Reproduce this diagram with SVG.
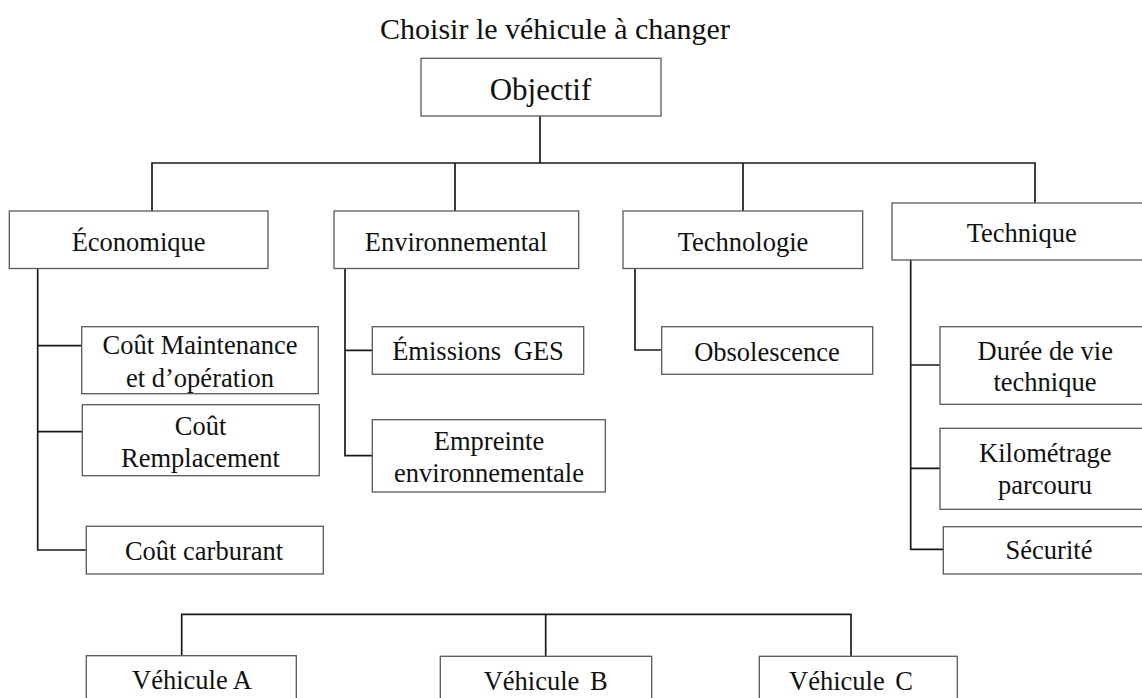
<svg xmlns="http://www.w3.org/2000/svg" width="1142" height="698" viewBox="0 0 1142 698">
  <style>
    .box { fill: #ffffff; stroke: #5a5a5a; stroke-width: 1.3; }
    .lbl { font-family: "Liberation Serif", "Times New Roman", serif; font-size: 26.5px; fill: #111111; text-anchor: middle; }
    .big { font-size: 30px; }
    .link { fill: none; stroke: #1a1a1a; stroke-width: 1.7; }
  </style>
  <rect width="1142" height="698" fill="#ffffff"/>

  <text class="lbl big" x="555" y="39">Choisir le véhicule à changer</text>

  <!-- connectors -->
  <g id="connectors">
    <path class="link" d="M540,116 V163 M152,211 V163 H1035 V203 M455,163 V211 M743,163 V211"/>
    <path class="link" d="M37.7,268.5 V550 H86.3 M37.7,345.7 H81.7 M37.7,431.7 H82.3"/>
    <path class="link" d="M345,268.5 V455.7 H372.3 M345,350.3 H372.3"/>
    <path class="link" d="M635,268.5 V350 H661.7"/>
    <path class="link" d="M910.7,260 V549.3 H943.3 M910.7,365 H940 M910.7,468.3 H940"/>
    <path class="link" d="M181.7,655.7 V614.3 H851 V656.3 M545.7,614.3 V656.3"/>
  </g>

  <g id="objectif">
    <rect class="box" x="421" y="58.3" width="240" height="57.7"/>
    <text class="lbl" style="font-size:31px" x="540.5" y="99.5">Objectif</text>
  </g>

  <g id="economique">
    <rect class="box" x="9.3" y="211" width="258.7" height="57.5"/>
    <text class="lbl" x="138.6" y="251">Économique</text>
  </g>
  <g id="environnemental">
    <rect class="box" x="334" y="211" width="244.7" height="57.5"/>
    <text class="lbl" x="456" y="251">Environnemental</text>
  </g>
  <g id="technologie">
    <rect class="box" x="623" y="211" width="239.7" height="57.5"/>
    <text class="lbl" x="743" y="251">Technologie</text>
  </g>
  <g id="technique">
    <rect class="box" x="892" y="203" width="260" height="57"/>
    <text class="lbl" x="1021.7" y="241.7">Technique</text>
  </g>

  <g id="cout-maintenance">
    <rect class="box" x="81.7" y="326.7" width="236.6" height="67"/>
    <text class="lbl" x="200" y="354.3">Coût Maintenance</text>
    <text class="lbl" x="200" y="387">et d’opération</text>
  </g>
  <g id="cout-remplacement">
    <rect class="box" x="82.3" y="404.7" width="237" height="71"/>
    <text class="lbl" x="200.5" y="435">Coût</text>
    <text class="lbl" x="200.5" y="466.7">Remplacement</text>
  </g>
  <g id="cout-carburant">
    <rect class="box" x="86.3" y="526.3" width="237" height="47.7"/>
    <text class="lbl" x="204" y="560">Coût carburant</text>
  </g>

  <g id="emissions-ges">
    <rect class="box" x="372.3" y="326.7" width="211.4" height="47.6"/>
    <text class="lbl" x="478" y="360.3" word-spacing="6">Émissions GES</text>
  </g>
  <g id="empreinte">
    <rect class="box" x="372.3" y="419.7" width="233" height="72.3"/>
    <text class="lbl" x="489" y="450.3">Empreinte</text>
    <text class="lbl" x="489" y="482">environnementale</text>
  </g>

  <g id="obsolescence">
    <rect class="box" x="661.7" y="326.7" width="211" height="47.6"/>
    <text class="lbl" x="767" y="361">Obsolescence</text>
  </g>

  <g id="duree-vie">
    <rect class="box" x="940" y="326.7" width="212" height="77.6"/>
    <text class="lbl" x="1045.3" y="360.3">Durée de vie</text>
    <text class="lbl" x="1045" y="391">technique</text>
  </g>
  <g id="kilometrage">
    <rect class="box" x="940" y="428.3" width="212" height="81"/>
    <text class="lbl" x="1045.3" y="462">Kilométrage</text>
    <text class="lbl" x="1045" y="494.3">parcouru</text>
  </g>
  <g id="securite">
    <rect class="box" x="943.3" y="526.7" width="210" height="47.3"/>
    <text class="lbl" x="1049" y="559.3">Sécurité</text>
  </g>

  <g id="vehicule-a">
    <rect class="box" x="86.3" y="655.7" width="210" height="60"/>
    <text class="lbl" x="192" y="689.3">Véhicule A</text>
  </g>
  <g id="vehicule-b">
    <rect class="box" x="440.3" y="656.3" width="211.4" height="60"/>
    <text class="lbl" x="545.7" y="690.3" word-spacing="4">Véhicule B</text>
  </g>
  <g id="vehicule-c">
    <rect class="box" x="759.3" y="656.3" width="198" height="60"/>
    <text class="lbl" x="851" y="690" word-spacing="4">Véhicule C</text>
  </g>
</svg>
